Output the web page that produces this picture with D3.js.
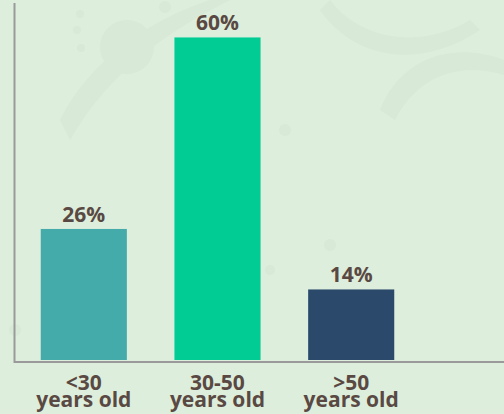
<!DOCTYPE html>
<html>
<head>
    <script src="https://cdnjs.cloudflare.com/ajax/libs/d3/7.8.5/d3.min.js"></script>
    <style>
        body { margin: 0; background: #ddeedc; }
        .label {
            font-family: "Open Sans", sans-serif;
            font-weight: 700;
            font-size: 21px;
            fill: #5a4943;
            text-anchor: middle;
        }
        .axis-line {
            stroke: #9a9a9a;
            stroke-width: 2px;
        }
    </style>
</head>
<body>
    <div id="chart"></div>
    <script>
        const width = 504, height = 414;

        // data
        const groups = ["<30", "30-50", ">50"];
        const groupSub = ["years old", "years old", "years old"];
        const shares = [26, 64, 14];          // bar heights as drawn
        const shareLabels = ["26%", "60%", "14%"];
        const colors = ["#44aaaa", "#00cc93", "#2b4a6b"];

        const svg = d3.select("#chart").append("svg")
            .attr("width", width).attr("height", height);

        svg.append("rect").attr("width", width).attr("height", height).attr("fill", "#ddeedc");

        // faint ornament in the background
        const deco = svg.append("g").attr("fill", "#d5e8d4").attr("opacity", 0.6);
        [[127, 47, 27], [80, 14, 4], [77, 30, 4], [81, 48, 4], [165, 7, 6], [285, 130, 6], [330, 245, 6], [270, 270, 5], [15, 330, 6]]
            .forEach(c => deco.append("circle").attr("cx", c[0]).attr("cy", c[1]).attr("r", c[2]));
        deco.append("path").attr("d", "M60,120 C90,60 150,20 210,0 L230,0 C170,30 110,70 70,140 Z");
        deco.append("path").attr("d", "M380,110 C400,60 450,40 504,60 L504,75 C455,60 415,80 395,120 Z");
        deco.append("path").attr("d", "M330,0 C360,40 420,50 470,20 L480,30 C420,70 355,60 320,10 Z");

        const x = d3.scaleBand()
            .domain(groups)
            .range([14, 421])
            .paddingInner(0.356)
            .paddingOuter(0.2);

        const y = d3.scaleLinear()
            .domain([0, 70])
            .range([360, 360 - 70 * 5.04]);

        svg.append("g")
            .selectAll("rect")
            .data(groups)
            .enter().append("rect")
            .attr("x", d => x(d))
            .attr("y", (d, i) => y(shares[i]))
            .attr("width", x.bandwidth())
            .attr("height", (d, i) => y(0) - y(shares[i]))
            .attr("fill", (d, i) => colors[i]);

        // axes lines
        svg.append("line").attr("class", "axis-line")
            .attr("x1", 14.5).attr("x2", 14.5).attr("y1", 3).attr("y2", 363);
        svg.append("line").attr("class", "axis-line")
            .attr("x1", 14).attr("x2", width).attr("y1", 362).attr("y2", 362);

        // value labels
        svg.append("g")
            .selectAll("text")
            .data(groups)
            .enter().append("text")
            .attr("class", "label")
            .attr("x", d => x(d) + x.bandwidth() / 2)
            .attr("y", (d, i) => y(shares[i]) - 7)
            .text((d, i) => shareLabels[i]);

        // category labels
        const cat = svg.append("g")
            .selectAll("text")
            .data(groups)
            .enter().append("text")
            .attr("class", "label")
            .attr("x", d => x(d) + x.bandwidth() / 2)
            .attr("y", 390);
        cat.append("tspan").text(d => d);
        cat.append("tspan")
            .attr("x", d => x(d) + x.bandwidth() / 2)
            .attr("dy", 17)
            .text((d, i) => groupSub[i]);
    </script>
</body>
</html>
